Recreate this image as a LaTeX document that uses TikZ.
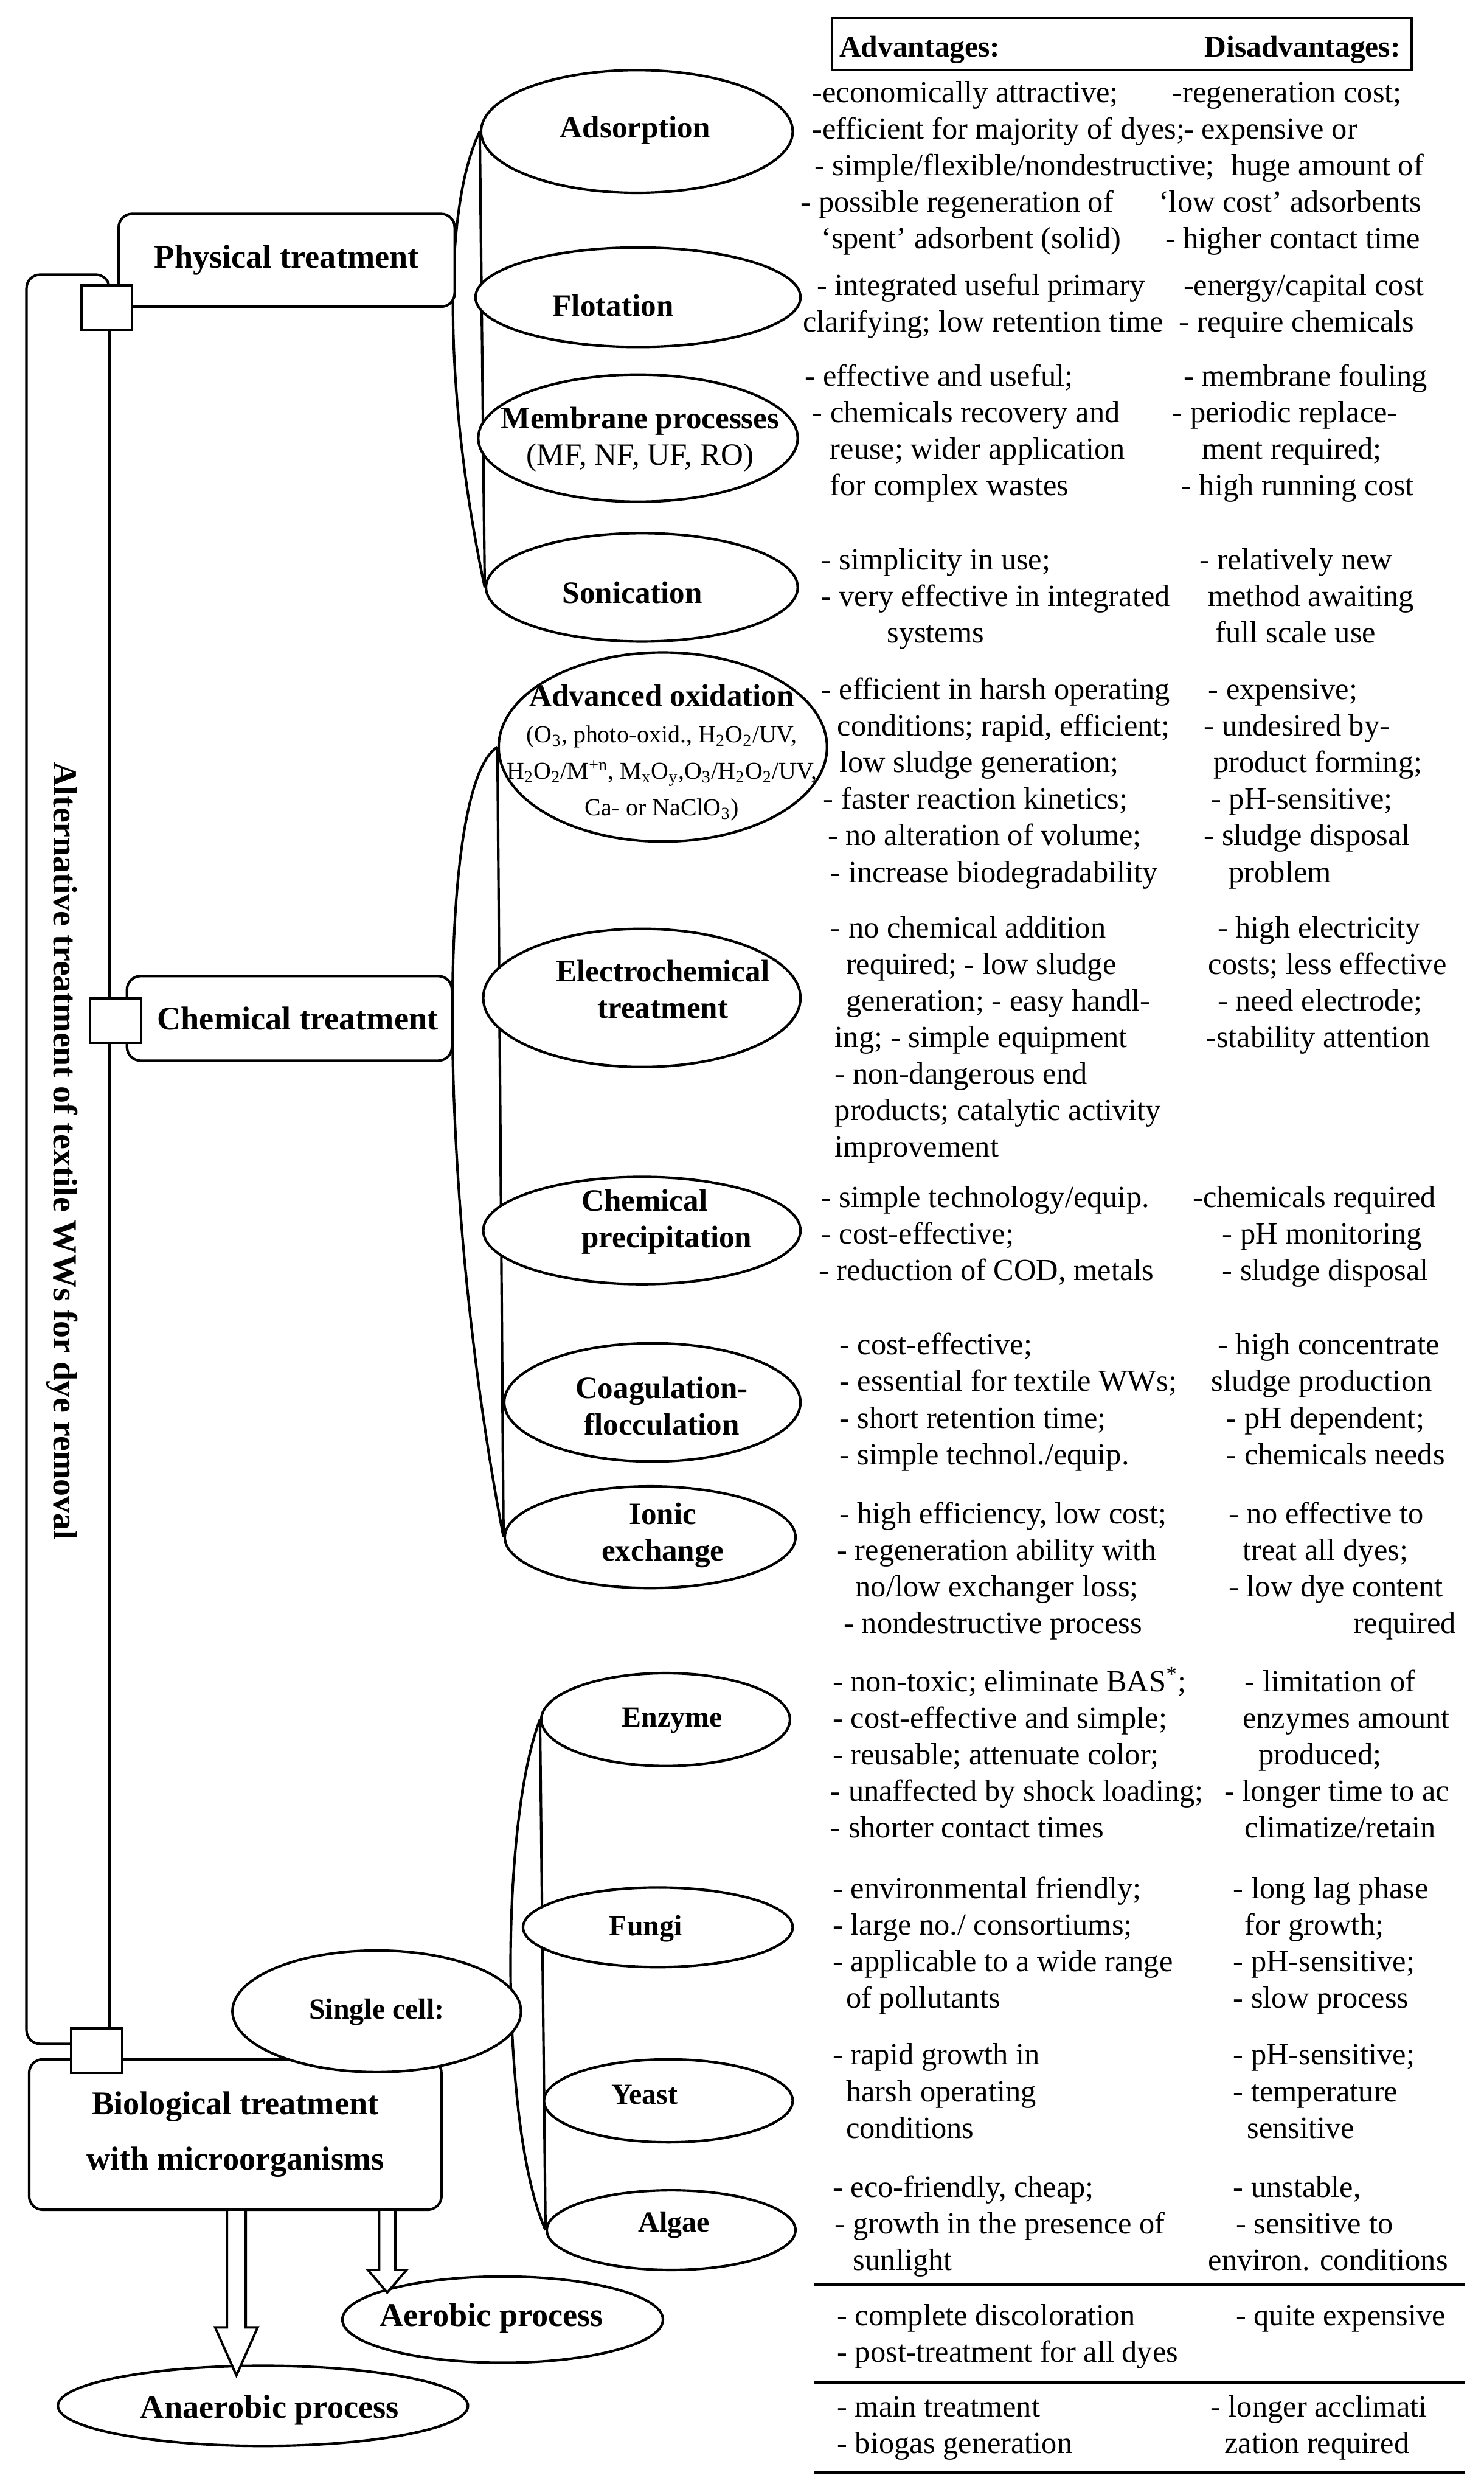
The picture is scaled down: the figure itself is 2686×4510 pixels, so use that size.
\documentclass[tikz,border=0pt]{standalone}
\usepackage{fontspec}
\setmainfont{Liberation Serif}
\usetikzlibrary{shapes.geometric, backgrounds, calc}
\tikzset{
  ln/.style={line width=1.3pt},
  oval/.style={ellipse, draw, line width=1.3pt, fill=white, inner sep=0pt},
  lbl/.style={font=\bfseries\fontsize{16}{18.8}\selectfont, align=center, inner sep=0pt},
  slbl/.style={font=\bfseries\fontsize{15}{18}\selectfont, inner sep=0pt},
  blbl/.style={font=\bfseries\fontsize{17}{20.5}\selectfont, align=center, inner sep=0pt},
  tbox/.style={draw, rounded corners=7pt, line width=1.3pt, fill=white, inner sep=0pt},
  sq/.style={draw, fill=white, line width=1.3pt, minimum width=0.92cm, minimum height=0.8cm, inner sep=0pt},
  % #1 = number of lines; the node is placed at the baseline of its first line
  txt/.style={font=\fontsize{15.8}{18.8}\selectfont, align=left, inner sep=0pt, anchor=base west,
              yshift={-(#1-1)*18.8pt}},
  txt/.default=1,
  hdr/.style={font=\bfseries\fontsize{15.5}{18}\selectfont, inner sep=0pt},
  blk/.style={draw, fill=white, line width=1.2pt, line join=miter},
  rule/.style={line width=1.6pt},
}
\newcommand{\smf}{\mdseries\fontsize{12.5}{18.8}\selectfont}
% hollow block arrow: top, tip, half shaft, half head, head length
\newcommand{\blockarrow}[5]{%
  \draw[blk] let \p1=(#1), \p2=(#2) in
    (\x1-#3,\y1) -- (\x1-#3,\y2+#5) -- (\x1-#4,\y2+#5) -- (\p2)
    -- (\x1+#4,\y2+#5) -- (\x1+#3,\y2+#5) -- (\x1+#3,\y1) -- cycle;}

\begin{document}
\begin{tikzpicture}[x=0.01cm, y=-0.01cm]
  \useasboundingbox (0,0) rectangle (2686,4510);

  % frame and treatment boxes
  \node[tbox, minimum width=1.5cm, minimum height=32cm] (frame) at (123,2098) {};
  \node[rotate=-90, inner sep=0pt, font=\bfseries\fontsize{17.5}{20}\selectfont] (title) at (112,2083)
    {Alternative treatment of textile WWs for dye removal};
  \node[tbox, blbl, minimum width=6.08cm, minimum height=1.68cm] (phy) at (519,471) {Physical treatment};
  \node[tbox, blbl, minimum width=5.88cm, minimum height=1.53cm] (chm) at (524,1843) {\hspace*{0.3cm}Chemical treatment};
  \node[tbox, blbl, minimum width=7.46cm, minimum height=2.72cm] (bio) at (426,3863)
    {Biological treatment\\[8pt]with microorganisms};

  % physical
  \node[oval, minimum width=5.64cm, minimum height=2.22cm] (ads) at (1153,238) {};
  \node[lbl] (ads-t) at (1150,236) {Adsorption};
  \node[oval, minimum width=5.88cm, minimum height=1.80cm] (flo) at (1155,538) {};
  \node[lbl] (flo-t) at (1110,553) {Flotation};
  \node[oval, minimum width=5.78cm, minimum height=2.30cm] (mem) at (1155,793) {};
  \node[lbl] (mem-t) at (1159,795) {Membrane processes\\{\mdseries (MF, NF, UF, RO)}};
  \node[oval, minimum width=5.64cm, minimum height=1.96cm] (son) at (1162,1063) {};
  \node[lbl] (son-t) at (1145,1073) {Sonication};

  % chemical
  \node[oval, minimum width=5.94cm, minimum height=3.42cm] (aox) at (1200,1352) {};
  \node[lbl] (aox-t) at (1198,1362) {Advanced oxidation\\
    {\smf (O\textsubscript{3}, photo-oxid., H\textsubscript{2}O\textsubscript{2}/UV,}\\
    {\smf H\textsubscript{2}O\textsubscript{2}/M\textsuperscript{+n}, M\textsubscript{x}O\textsubscript{y},O\textsubscript{3}/H\textsubscript{2}O\textsubscript{2}/UV,}\\
    {\smf Ca- or NaClO\textsubscript{3})}};
  \node[oval, minimum width=5.74cm, minimum height=2.50cm] (ele) at (1162,1806) {};
  \node[lbl] (ele-t) at (1200,1790) {Electrochemical\\treatment};
  \node[oval, minimum width=5.74cm, minimum height=1.94cm] (pre) at (1162,2227) {};
  \node[lbl, align=left] (pre-t) at (1207,2211) {Chemical\\precipitation};
  \node[oval, minimum width=5.36cm, minimum height=2.14cm] (coa) at (1181,2538) {};
  \node[lbl] (coa-t) at (1198,2545) {Coagulation-\\flocculation};
  \node[oval, minimum width=5.26cm, minimum height=1.84cm] (ion) at (1177,2782) {};
  \node[lbl] (ion-t) at (1200,2778) {Ionic\\exchange};

  % biological
  \node[oval, minimum width=4.50cm, minimum height=1.68cm] (enz) at (1205,3112) {};
  \node[slbl] (enz-t) at (1217,3114) {Enzyme};
  \node[oval, minimum width=4.88cm, minimum height=1.44cm] (fun) at (1191,3488) {};
  \node[slbl] (fun-t) at (1169,3490) {Fungi};
  \node[oval, minimum width=4.50cm, minimum height=1.50cm] (yea) at (1210,3802) {};
  \node[slbl] (yea-t) at (1167,3791) {Yeast};
  \node[oval, minimum width=4.50cm, minimum height=1.44cm] (alg) at (1215,4036) {};
  \node[slbl] (alg-t) at (1220,4027) {Algae};
  \node[oval, minimum width=5.22cm, minimum height=2.20cm] (sgl) at (682,3640) {};
  \node[slbl] (sgl-t) at (682,3641) {Single cell:};
  \node[oval, minimum width=5.80cm, minimum height=1.56cm] (aer) at (910,4198) {};
  \node[blbl] (aer-t) at (890,4195) {Aerobic process};
  \node[oval, minimum width=7.42cm, minimum height=1.45cm] (ana) at (476,4354) {};
  \node[blbl] (ana-t) at (488,4362) {Anaerobic process};

  % joints
  \node[sq] (s1) at (193,557) {};
  \node[sq] (s2) at (209,1847) {};
  \node[sq] (s3) at (175,3711) {};

  % process arrows
  \coordinate (ana-top) at (428,3999);
  \coordinate (ana-tip) at (428,4299);
  \coordinate (aer-top) at (701,3999);
  \coordinate (aer-tip) at (701,4149);
  \blockarrow{ana-top}{ana-tip}{0.17cm}{0.385cm}{0.87cm}
  \blockarrow{aer-top}{aer-tip}{0.145cm}{0.35cm}{0.41cm}

  % brackets
  \begin{scope}[on background layer]
    \draw[ln] (ads.west) -- (son.west);
    \draw[ln] (ads.west) .. controls (800,380) and (805,720) .. (son.west);
    \draw[ln] (aox.west) -- (ion.west);
    \draw[ln] (aox.west) .. controls (790,1420) and (790,2150) .. (ion.west);
    \draw[ln] (enz.west) -- (alg.west);
    \draw[ln] (enz.west) .. controls (905,3300) and (905,3850) .. (alg.west);
  \end{scope}

  % table head
  \node[draw, line width=1.3pt, minimum width=10.49cm, minimum height=0.93cm, inner sep=0pt] (head) at (2031,80) {};
  \node[hdr, anchor=base west] (head-a) at (1519,103) {Advantages:};
  \node[hdr, anchor=base east] (head-d) at (2536,103) {Disadvantages:};

  % advantages / disadvantages
  \node[txt=5] (ads-a) at (1449,185) {\hspace*{0.21cm}-economically attractive;\\
    \hspace*{0.21cm}-efficient for majority of dyes;\\
    \hspace*{0.25cm}- simple/flexible/nondestructive;\\
    - possible regeneration of\\
    \hspace*{0.37cm}`spent' adsorbent (solid)};
  \node[txt=5] (ads-d) at (2097,185) {\hspace*{0.25cm}-regeneration cost;\\
    \hspace*{0.45cm}- expensive or\\
    \hspace*{1.31cm}huge amount of\\
    `low cost' adsorbents\\
    \hspace*{0.12cm}- higher contact time};

  \node[txt=2] (flo-a) at (1453,535) {\hspace*{0.25cm}- integrated useful primary\\
    clarifying; low retention time};
  \node[txt=2] (flo-d) at (2134,535) {\hspace*{0.08cm}-energy/capital cost\\
    - require chemicals};

  \node[txt=4] (mem-a) at (1457,699) {- effective and useful;\\
    \hspace*{0.13cm}- chemicals recovery and\\
    \hspace*{0.45cm}reuse; wider application\\
    \hspace*{0.45cm}for complex wastes};
  \node[txt=4] (mem-d) at (2122,699) {\hspace*{0.2cm}- membrane fouling\\
    - periodic replace-\\
    \hspace*{0.53cm}ment required;\\
    \hspace*{0.16cm}- high running cost};

  \node[txt=3] (son-a) at (1486,1031) {- simplicity in use;\\
    - very effective in integrated\\
    \hspace*{1.19cm}systems};
  \node[txt=3] (son-d) at (2171,1031) {- relatively new\\
    \hspace*{0.16cm}method awaiting\\
    \hspace*{0.29cm}full scale use};

  \node[txt=6] (aox-a) at (1486,1266) {- efficient in harsh operating\\
    \hspace*{0.29cm}conditions; rapid, efficient;\\
    \hspace*{0.33cm}low sludge generation;\\
    \hspace*{0.04cm}- faster reaction kinetics;\\
    \hspace*{0.12cm}- no alteration of volume;\\
    \hspace*{0.17cm}- increase biodegradability};
  \node[txt=6] (aox-d) at (2179,1266) {\hspace*{0.08cm}- expensive;\\
    - undesired by-\\
    \hspace*{0.17cm}product forming;\\
    \hspace*{0.13cm}- pH-sensitive;\\
    - sludge disposal\\
    \hspace*{0.45cm}problem};

  \node[txt=7] (ele-a) at (1503,1697) {\underline{- no chemical addition}\\
    \hspace*{0.28cm}required; - low sludge\\
    \hspace*{0.28cm}generation; - easy handl-\\
    \hspace*{0.08cm}ing; - simple equipment\\
    \hspace*{0.08cm}- non-dangerous end\\
    \hspace*{0.08cm}products; catalytic activity\\
    \hspace*{0.08cm}improvement};
  \node[txt=4] (ele-d) at (2183,1697) {\hspace*{0.21cm}- high electricity\\
    \hspace*{0.04cm}costs; less effective\\
    \hspace*{0.21cm}- need electrode;\\
    -stability attention};

  \node[txt=3] (pre-a) at (1482,2185) {\hspace*{0.04cm}- simple technology/equip.\\
    \hspace*{0.04cm}- cost-effective;\\
    - reduction of COD, metals};
  \node[txt=3] (pre-d) at (2159,2185) {-chemicals required\\
    \hspace*{0.53cm}- pH monitoring\\
    \hspace*{0.53cm}- sludge disposal};

  \node[txt=4] (coa-a) at (1519,2452) {- cost-effective;\\
    - essential for textile WWs;\\
    - short retention time;\\
    - simple technol./equip.};
  \node[txt=4] (coa-d) at (2192,2452) {\hspace*{0.12cm}- high concentrate\\
    sludge production\\
    \hspace*{0.28cm}- pH dependent;\\
    \hspace*{0.28cm}- chemicals needs};

  \node[txt=4] (ion-a) at (1515,2758) {\hspace*{0.04cm}- high efficiency, low cost;\\
    - regeneration ability with\\
    \hspace*{0.33cm}no/low exchanger loss;\\
    \hspace*{0.12cm}- nondestructive process};
  \node[txt=4] (ion-d) at (2224,2758) {- no effective to\\
    \hspace*{0.25cm}treat all dyes;\\
    - low dye content\\
    \hspace*{2.26cm}required};

  \node[txt=5] (enz-a) at (1503,3061) {\hspace*{0.04cm}- non-toxic; eliminate BAS\textsuperscript{*};\\
    \hspace*{0.04cm}- cost-effective and simple;\\
    \hspace*{0.04cm}- reusable; attenuate color;\\
    - unaffected by shock loading;\\
    - shorter contact times};
  \node[txt=5] (enz-d) at (2216,3061) {\hspace*{0.37cm}- limitation of\\
    \hspace*{0.33cm}enzymes amount\\
    \hspace*{0.62cm}produced;\\
    - longer time to ac\\
    \hspace*{0.37cm}climatize/retain};

  \node[txt=4] (fun-a) at (1507,3436) {- environmental friendly;\\
    - large no./ consortiums;\\
    - applicable to a wide range\\
    \hspace*{0.24cm}of pollutants};
  \node[txt=4] (fun-d) at (2232,3436) {- long lag phase\\
    \hspace*{0.21cm}for growth;\\
    - pH-sensitive;\\
    - slow process};

  \node[txt=3] (yea-a) at (1507,3737) {- rapid growth in\\
    \hspace*{0.24cm}harsh operating\\
    \hspace*{0.24cm}conditions};
  \node[txt=3] (yea-d) at (2232,3737) {- pH-sensitive;\\
    - temperature\\
    \hspace*{0.25cm}sensitive};

  \node[txt=3] (alg-a) at (1507,3976) {- eco-friendly, cheap;\\
    \hspace*{0.04cm}- growth in the presence of\\
    \hspace*{0.37cm}sunlight};
  \node[txt=3] (alg-d) at (2187,3976) {\hspace*{0.45cm}- unstable,\\
    \hspace*{0.5cm}- sensitive to\\
    environ. conditions};

  \coordinate (r1a) at (1474,4135); \coordinate (r1b) at (2651,4135);
  \draw[rule] (r1a) -- (r1b);
  \node[txt=2] (aer-a) at (1515,4209) {- complete discoloration\\
    - post-treatment for all dyes};
  \node[txt] (aer-d) at (2237,4209) {- quite expensive};

  \coordinate (r2a) at (1474,4312); \coordinate (r2b) at (2651,4312);
  \draw[rule] (r2a) -- (r2b);
  \node[txt=2] (ana-a) at (1515,4374) {- main treatment\\
    - biogas generation};
  \node[txt=2] (ana-d) at (2191,4374) {- longer acclimati\\
    \hspace*{0.25cm}zation required};

  \coordinate (r3a) at (1474,4475); \coordinate (r3b) at (2651,4475);
  \draw[rule] (r3a) -- (r3b);
\end{tikzpicture}
\end{document}
